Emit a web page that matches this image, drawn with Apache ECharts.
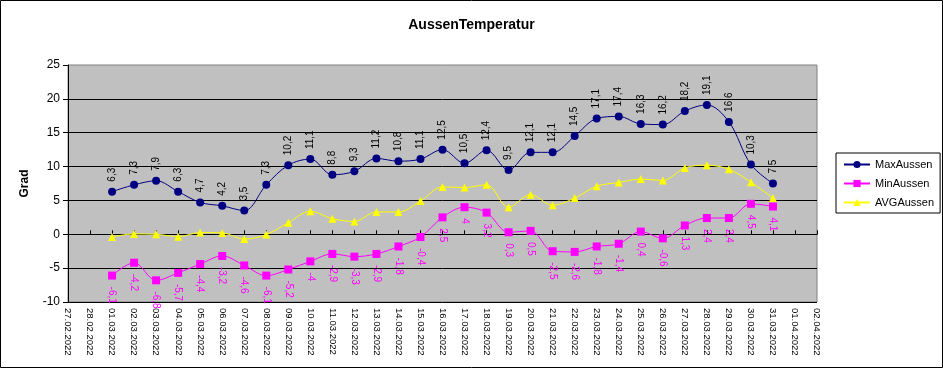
<!DOCTYPE html>
<html><head><meta charset="utf-8">
<script src="https://cdn.jsdelivr.net/npm/echarts@6/dist/echarts.min.js"></script>
<style>html,body{margin:0;padding:0;background:#fff}#c{width:943px;height:368px}</style>
</head><body><div id="c"></div>
<script>
var categories = ["27.02.2022","28.02.2022","01.03.2022","02.03.2022","03.03.2022","04.03.2022","05.03.2022","06.03.2022","07.03.2022","08.03.2022","09.03.2022","10.03.2022","11.03.2022","12.03.2022","13.03.2022","14.03.2022","15.03.2022","16.03.2022","17.03.2022","18.03.2022","19.03.2022","20.03.2022","21.03.2022","22.03.2022","23.03.2022","24.03.2022","25.03.2022","26.03.2022","27.03.2022","28.03.2022","29.03.2022","30.03.2022","31.03.2022","01.04.2022","02.04.2022"];
var maxAussen = [6.3,7.3,7.9,6.3,4.7,4.2,3.5,7.3,10.2,11.1,8.8,9.3,11.2,10.8,11.1,12.5,10.5,12.4,9.5,12.1,12.1,14.5,17.1,17.4,16.3,16.2,18.2,19.1,16.6,10.3,7.5];
var minAussen = [-6.1,-4.2,-6.8,-5.7,-4.4,-3.2,-4.6,-6.1,-5.2,-4,-2.9,-3.3,-2.9,-1.8,-0.4,2.5,4,3.2,0.3,0.5,-2.5,-2.6,-1.8,-1.4,0.4,-0.6,1.3,2.4,2.4,4.5,4.1];
var avgAussen = [-0.4,0.05,0.0,-0.35,0.25,0.2,-0.7,-0.05,1.7,3.4,2.3,1.9,3.3,3.3,4.9,7.0,6.9,7.3,4.0,5.85,4.3,5.35,7.1,7.65,8.15,7.95,9.8,10.2,9.6,7.7,5.35];
var yTicks = [-10,-5,0,5,10,15,20,25];

function pad(a){ return [null,null].concat(a).concat([null,null]); }
function fmt(p){ return String(p.value).replace('.', ','); }
var FONT = '"Liberation Sans", Arial, sans-serif';

var chart = echarts.init(document.getElementById('c'), null, {renderer:'canvas'});
chart.setOption({
  animation:false,
  textStyle:{fontFamily:FONT},
  title:{text:'AussenTemperatur', left:'center', top:13, textStyle:{fontFamily:FONT, fontSize:14, fontWeight:'bold', color:'#000'}},
  graphic:[{type:'rect', shape:{x:0.5,y:0.5,width:942,height:367}, style:{fill:'none', stroke:'#000', lineWidth:1}, z:100}],
  legend:{
    orient:'vertical', left:836, top:153, padding:[6,6,5,7], itemGap:8,
    itemWidth:26, itemHeight:9, borderColor:'#000', borderWidth:1, backgroundColor:'#fff',
    textStyle:{fontFamily:FONT, fontSize:11, color:'#000'},
    data:['MaxAussen','MinAussen','AVGAussen']
  },
  grid:{left:68, right:126, top:65, bottom:66, show:true, backgroundColor:'#c0c0c0', borderColor:'#808080', borderWidth:1},
  xAxis:[
    {type:'category', data:categories, boundaryGap:false, position:'bottom',
     axisLine:{show:false, onZero:false}, axisTick:{show:false}, splitLine:{show:false},
     axisLabel:{interval:0, rotate:-90, margin:6, fontFamily:FONT, fontSize:9.5, color:'#000'}},
    {type:'category', data:categories, boundaryGap:false, position:'bottom',
     axisLine:{show:true, onZero:true, lineStyle:{color:'#000', width:1}},
     axisTick:{show:true, inside:true, length:4, interval:0, lineStyle:{color:'#000'}},
     axisLabel:{show:false}, splitLine:{show:false}}
  ],
  yAxis:{type:'value', min:yTicks[0], max:yTicks[yTicks.length-1], interval:5,
    name:'Grad', nameLocation:'middle', nameRotate:90, nameGap:37,
    nameTextStyle:{fontFamily:FONT, fontSize:12, fontWeight:'bold', color:'#000'},
    axisLine:{show:true, lineStyle:{color:'#000'}},
    axisTick:{show:true, inside:false, length:5, lineStyle:{color:'#000'}},
    axisLabel:{margin:8, fontFamily:FONT, fontSize:12, color:'#000'},
    splitLine:{show:true, showMaxLine:false, lineStyle:{color:'#000', width:1}}
  },
  series:[
    {name:'MaxAussen', type:'line', xAxisIndex:0, data:pad(maxAussen), smooth:0.35,
     symbol:'circle', symbolSize:8, color:'#000080', lineStyle:{color:'#000080', width:1},
     itemStyle:{color:'#000080'}, z:4,
     label:{show:true, position:'top', distance:6, rotate:90, align:'left', verticalAlign:'middle',
       formatter:fmt, fontFamily:FONT, fontSize:10, color:'#000'}},
    {name:'MinAussen', type:'line', xAxisIndex:0, data:pad(minAussen), smooth:0.35,
     symbol:'rect', symbolSize:8, color:'#ff00ff', lineStyle:{color:'#ff00ff', width:1},
     itemStyle:{color:'#ff00ff'}, z:3,
     label:{show:true, position:'bottom', distance:7, rotate:-90, align:'left', verticalAlign:'middle',
       formatter:fmt, fontFamily:FONT, fontSize:10, color:'#ff00ff'}},
    {name:'AVGAussen', type:'line', xAxisIndex:0, data:pad(avgAussen), smooth:0.35,
     symbol:'triangle', symbolSize:8, color:'#ffff00', lineStyle:{color:'#ffff00', width:1},
     itemStyle:{color:'#ffff00'}, z:2}
  ]
});
</script></body></html>
